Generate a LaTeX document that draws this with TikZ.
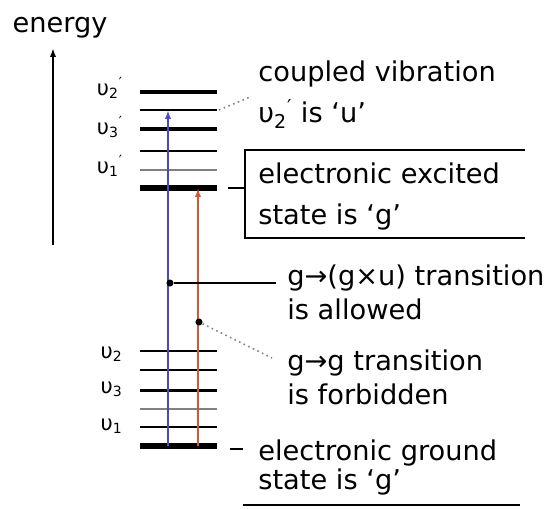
\documentclass[tikz,border=0pt]{standalone}
\usepackage{fontspec}
\setmainfont{DejaVu Sans}
\usetikzlibrary{arrows.meta,positioning,calc}
\definecolor{TrBlue}{RGB}{72,72,200}
\definecolor{TrRed}{RGB}{215,85,50}
\newcommand{\vlab}[2]{υ\textsubscript{#1}\textsuperscript{#2}}

\begin{document}
\begin{tikzpicture}[x=0.02cm, y=-0.02cm,
          note/.style={font=\fontsize{15.5}{23.8}\selectfont, align=left,
                       anchor=north west, inner sep=0pt},
          vnum/.style={font=\fontsize{12}{14}\selectfont, inner sep=0pt},
          lead/.style={line width=0.8pt},
          hint/.style={dotted, line width=0.9pt, gray},
          trans/.style={line width=1.2pt, -{Latex[length=5pt,width=3.5pt]}},
          dotmark/.style={circle, fill=black, inner sep=0pt, minimum size=4pt}
        ]
        \useasboundingbox (0,0) rectangle (550,508);

        % energy axis
        \node[font=\fontsize{15.5}{18}\selectfont] (en) at (60,28) {energy};
        \coordinate (axB) at (53,245);
        \coordinate (axT) at (53,48);
        \draw[line width=1pt, -{Latex[length=5pt,width=3.5pt]}] (axB) -- (axT);

        % excited state levels
        \foreach \y/\w/\c in {92/1.8/black, 110/1.0/black, 129/1.8/black,
                              151/1.3/black, 170/1.2/gray, 188/3.4/black}
          \draw[line width=\w pt, \c] (140,\y) -- (217,\y);
        % ground state levels
        \foreach \y/\w/\c in {351/1.4/black, 370/1.4/black, 390/1.7/black,
                              409/1.2/gray, 427/1.4/black, 446/3.0/black}
          \draw[line width=\w pt, \c] (140,\y) -- (217,\y);

        \node[vnum] (u2e) at (110,88)  {\vlab{2}{′}};
        \node[vnum] (u3e) at (110,127) {\vlab{3}{′}};
        \node[vnum] (u1e) at (110,166) {\vlab{1}{′}};
        \node[vnum] (u2g) at (112,354) {\vlab{2}{}};
        \node[vnum] (u3g) at (112,389) {\vlab{3}{}};
        \node[vnum] (u1g) at (112,426) {\vlab{1}{}};

        \coordinate (vib) at (219,110);
        \coordinate (exc) at (228,188);
        \coordinate (gnd) at (230,449);

        % transitions
        \coordinate (bB) at (168,446);
        \coordinate (bT) at (168,110);
        \coordinate (rB) at (198,446);
        \coordinate (rT) at (198,188);
        \draw[trans, TrBlue] (bB) -- (bT);
        \draw[trans, TrRed] (rB) -- (rT);

        % labels
        \node[note] (cpl) at (258,60)
              {coupled vibration\\\vlab{2}{′} is ‘u’};
        \node[note] (exl) at (258,162)
              {electronic excited\\state is ‘g’};
        \draw[lead] (525,150) -- (245,150) -- (245,238) -- (525,238);
        \draw[lead] (exc) -- (245,188);
        \draw[hint] (vib) -- (250,97);

        \node[dotmark] (pA) at (170,283) {};
        \node[note, font=\fontsize{15.5}{19.8}\selectfont] (alw) at (287,264)
              {g→(g×u) transition\\is allowed};
        \draw[lead] (pA) -- (276,283);

        \node[dotmark] (pF) at (199,322) {};
        \node[note, font=\fontsize{15.5}{19.8}\selectfont] (frb) at (287,349)
              {g→g transition\\is forbidden};
        \draw[hint] (pF) -- (272,358);

        \node[note, font=\fontsize{15.5}{16.8}\selectfont] (gsl) at (258,439)
              {electronic ground\\state is ‘g’};
        \draw[lead] (gnd) -- (243,449);
        \draw[lead] (243,505) -- (520,505);
      \end{tikzpicture}
\end{document}
